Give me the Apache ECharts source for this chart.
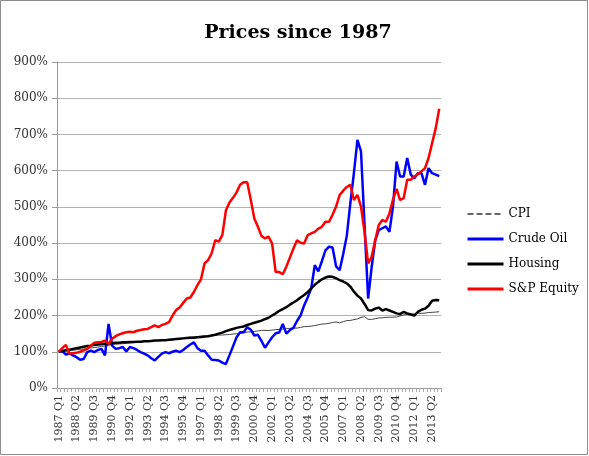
<!DOCTYPE html>
<html>
<head>
<meta charset="utf-8">
<script src="https://cdn.jsdelivr.net/npm/echarts@6/dist/echarts.min.js"></script>
<style>
html,body{margin:0;padding:0;background:#fff;}
#chart{width:589px;height:456px;}
</style>
</head>
<body>
<div id="chart"></div>
<script>
// Quarterly categories 1987 Q1 .. 2013 Q4
var quarters = [];
for (var yr = 1987; yr <= 2013; yr++) {
  for (var q = 1; q <= 4; q++) quarters.push(yr + ' Q' + q);
}

var seriesNames = ['CPI', 'Crude Oil', 'Housing', 'S&P Equity'];

var cpi = [
  100, 101.3, 102.3, 103.2,
  104.1, 105.4, 106.7, 107.7,
  109.0, 110.7, 111.6, 112.8,
  114.7, 115.9, 117.8, 119.9,
  120.8, 121.6, 122.4, 123.4,
  124.3, 125.3, 126.1, 127.0,
  128.1, 129.1, 129.8, 130.7,
  131.4, 132.3, 133.4, 134.1,
  135.2, 136.3, 137.0, 137.7,
  139.0, 140.3, 141.0, 142.0,
  143.0, 143.6, 144.1, 144.7,
  145.2, 145.9, 146.4, 147.0,
  147.7, 148.9, 149.9, 150.9,
  152.4, 154.1, 155.2, 156.2,
  157.6, 159.1, 159.2, 158.6,
  159.8, 161.2, 161.8, 162.4,
  164.4, 164.6, 165.3, 165.4,
  167.3, 169.4, 169.9, 170.7,
  172.3, 174.5, 176.5, 177.1,
  178.4, 181.2, 182.2, 180.3,
  183.0, 186.1, 186.5, 188.8,
  190.6, 194.7, 197.0, 189.8,
  189.3, 191.4, 193.1, 193.9,
  194.9, 195.3, 195.5, 196.3,
  198.8, 201.9, 202.7, 202.6,
  204.6, 206.1, 206.2, 206.8,
  208.4, 208.9, 209.5, 210.5
];

var crudeOil = [
  100, 102, 92, 96, 90, 85, 78, 80, 99, 103,
  99, 105, 108, 90, 177, 117, 108, 110, 113, 101,
  113, 110, 105, 99, 95, 90, 82, 76, 86, 95,
  99, 96, 100, 103, 99, 105, 113, 120, 126, 110,
  103, 103, 90, 78, 77, 76, 70, 66, 90, 115,
  140, 154, 154, 168, 161, 145, 147, 130, 111, 126,
  140, 151, 153, 177, 150, 160, 166, 185, 200, 228,
  250, 275, 339, 322, 350, 380, 390, 388, 336, 325,
  370, 420, 510, 593, 685, 653, 450, 247, 334, 408,
  436, 441, 446, 431, 501, 625, 584, 584, 635, 589,
  579, 593, 593, 561, 607, 593, 589, 585
];

var housing = [
  100, 102, 104, 106, 108, 110, 112, 114, 116, 117, 119,
  120, 121, 122, 123, 124, 125, 125, 126, 126, 127,
  127, 128, 128, 129, 129, 130, 131, 131, 132, 132,
  133, 134, 135, 136, 137, 138, 139, 139, 140, 141,
  142, 143, 145, 147, 150, 153, 157, 160, 163, 166,
  168, 170, 174, 177, 180, 183, 186, 190, 194, 200,
  206, 213, 218, 223, 230, 236, 242, 250, 257, 265,
  275, 285, 293, 300, 305, 308, 307, 303, 298, 294,
  289, 280, 266, 255, 247, 232, 215, 214, 219, 222,
  214, 218, 214, 210, 206, 204, 210, 206, 203, 200,
  210, 216, 219, 227, 241, 243, 242
];

var spEquity = [
  100, 110, 119, 95, 96, 97, 100, 104, 108, 117,
  125, 126, 127, 131, 122, 136, 143, 148, 151, 154,
  155, 154, 158, 160, 162, 163, 168, 173, 168, 174,
  177, 182, 200, 215, 222, 235, 247, 250, 265, 284,
  300, 344, 353, 372, 408, 404, 422, 490, 512, 525,
  540, 561, 568, 568, 520, 468, 445, 420, 413, 418,
  399, 320, 320, 314, 335, 360, 385, 408, 401, 399,
  422, 427, 431, 440, 445, 459, 459, 478, 501, 533,
  545, 555, 561, 519, 533, 501, 430, 344, 362, 408,
  450, 464, 459, 482, 520, 550, 519, 524, 575, 575,
  584, 590, 598, 607, 635, 676, 716, 771
];

var yTicks = { min: 0, max: 900, step: 100 };

var serif = 'DejaVu Serif';
var chart = echarts.init(document.getElementById('chart'), null, { renderer: 'canvas' });

chart.setOption({
  animation: false,
  backgroundColor: '#fff',
  title: {
    text: 'Prices since 1987',
    left: 293,
    textAlign: 'center',
    top: 19,
    textStyle: { fontFamily: serif, fontWeight: 'bold', fontSize: 19, color: '#000' }
  },
  graphic: [{
    type: 'rect',
    shape: { x: 0.5, y: 0.5, width: 587, height: 454 },
    style: { fill: 'none', stroke: '#8c8c8c', lineWidth: 1 },
    silent: true
  }],
  legend: {
    orient: 'vertical',
    left: 461,
    top: 203,
    itemWidth: 36,
    itemHeight: 14,
    itemGap: 13,
    itemStyle: { color: 'rgba(0,0,0,0)', borderWidth: 0, opacity: 0 },
    textStyle: { fontFamily: serif, fontSize: 12, color: '#000' },
    data: [
      { name: 'CPI', lineStyle: { type: 'dashed', width: 1.5, color: '#333' } },
      { name: 'Crude Oil', lineStyle: { width: 3 } },
      { name: 'Housing', lineStyle: { width: 3 } },
      { name: 'S&P Equity', lineStyle: { width: 3 } }
    ]
  },
  grid: { left: 57, right: 148, top: 62, bottom: 68 },
  xAxis: {
    type: 'category',
    data: quarters,
    boundaryGap: true,
    axisLine: { lineStyle: { color: '#999', width: 1 } },
    axisTick: { show: true, interval: 0, length: 4, lineStyle: { color: '#aaa' } },
    axisLabel: {
      interval: 4,
      rotate: 90,
      margin: 7,
      fontFamily: serif,
      fontSize: 11,
      color: '#333'
    },
    splitLine: { show: false }
  },
  yAxis: {
    type: 'value',
    min: yTicks.min,
    max: yTicks.max,
    interval: yTicks.step,
    axisLine: { show: true, lineStyle: { color: '#999', width: 1 } },
    axisTick: { show: true, length: 5, lineStyle: { color: '#999' } },
    axisLabel: {
      formatter: '{value}%',
      fontFamily: serif,
      fontSize: 12,
      color: '#333',
      margin: 9
    },
    splitLine: { show: true, lineStyle: { color: '#b3b3b3', width: 1 } }
  },
  series: [
    {
      name: seriesNames[0], type: 'line', data: cpi, symbol: 'none',
      lineStyle: { color: '#444', width: 1 }, itemStyle: { color: '#444' }, z: 2
    },
    {
      name: seriesNames[1], type: 'line', data: crudeOil, symbol: 'none',
      lineStyle: { color: '#0000ff', width: 2.5 }, itemStyle: { color: '#0000ff' }, z: 3
    },
    {
      name: seriesNames[2], type: 'line', data: housing, symbol: 'none',
      lineStyle: { color: '#000', width: 2.5 }, itemStyle: { color: '#000' }, z: 4
    },
    {
      name: seriesNames[3], type: 'line', data: spEquity, symbol: 'none',
      lineStyle: { color: '#ff0000', width: 2.5 }, itemStyle: { color: '#ff0000' }, z: 5
    }
  ]
});
</script>
</body>
</html>
